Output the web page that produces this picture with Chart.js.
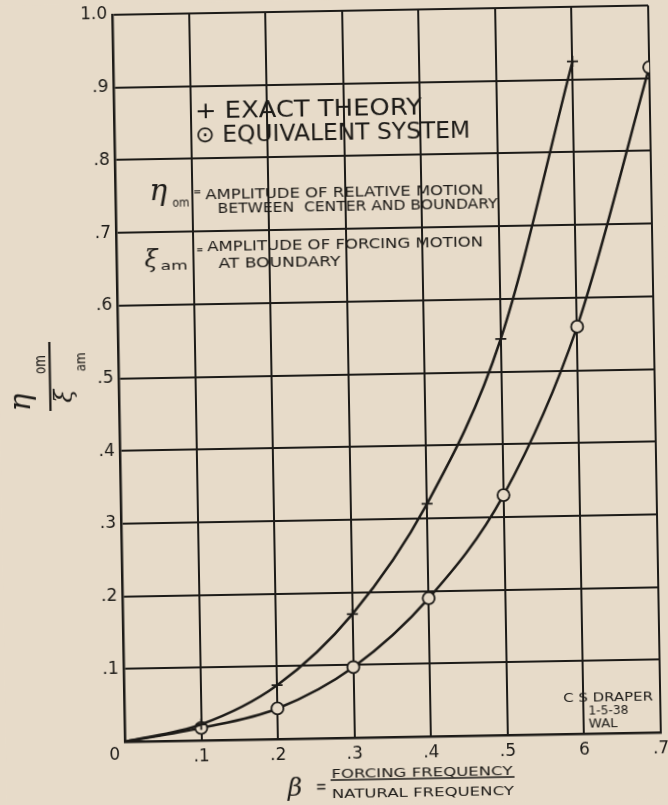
<!DOCTYPE html>
<html>
<head>
<meta charset="utf-8">
<script src="https://cdn.jsdelivr.net/npm/chart.js@4"></script>
<style>
  html, body { margin: 0; padding: 0; background: #e7dbc9; overflow: hidden; }
  #sheet { width: 668px; height: 805px; transform: rotate(-1deg); transform-origin: 50% 50%; }
  canvas { display: block; }
</style>
</head>
<body>
<div id="sheet"><canvas id="chart" width="668" height="805"></canvas></div>
<script>
// Frequency ratio beta and amplitude ratio for the two methods
const betaExact = [0, 0.1, 0.2, 0.3, 0.4, 0.5, 0.6];
const ampExact = [0, 0.022, 0.074, 0.17, 0.32, 0.545, 0.925];
const betaEquiv = [0, 0.1, 0.2, 0.3, 0.4, 0.5, 0.6, 0.7];
const ampEquiv = [0, 0.017, 0.042, 0.097, 0.19, 0.33, 0.56, 0.915];
const xTickLabels = ['', '.1', '.2', '.3', '.4', '.5', '6', '.7'];
const yTickLabels = ['0', '.1', '.2', '.3', '.4', '.5', '.6', '.7', '.8', '.9', '1.0'];

const INK = '#1d1b18';
const PAPER = '#e7dbc9';
const SANS = '"DejaVu Sans", sans-serif';
const SERIF = '"DejaVu Serif", serif';

const pts = (xs, ys) => xs.map((x, i) => ({ x, y: ys[i] }));

// draw text squeezed/stretched to span x1..x2, vertically centred on capitals at yc
function fitText(ctx, text, x1, x2, yc, size, family, weight) {
  ctx.font = (weight || 'normal') + ' ' + size + 'px ' + (family || SANS);
  const w = ctx.measureText(text).width;
  ctx.save();
  ctx.translate(x1, yc + size * 0.365);
  ctx.scale((x2 - x1) / w, 1);
  ctx.textAlign = 'left';
  ctx.textBaseline = 'alphabetic';
  ctx.fillText(text, 0, 0);
  ctx.restore();
}

function glyph(ctx, text, x, baseline, font) {
  ctx.font = font;
  ctx.textAlign = 'left';
  ctx.textBaseline = 'alphabetic';
  ctx.fillText(text, x, baseline);
}

const paperPlugin = {
  id: 'paper',
  beforeDraw(chart) {
    const ctx = chart.ctx;
    ctx.save();
    ctx.fillStyle = PAPER;
    ctx.fillRect(0, 0, chart.width, chart.height);
    ctx.restore();
  }
};

const notesPlugin = {
  id: 'notes',
  afterDraw(chart) {
    const ctx = chart.ctx;
    ctx.save();
    ctx.fillStyle = INK;
    ctx.strokeStyle = INK;

    // key
    fitText(ctx, '+ EXACT THEORY', 200, 427, 107.5, 23);
    fitText(ctx, '\u2299 EQUIVALENT SYSTEM', 200, 475, 132, 23);

    // definition of eta_om
    glyph(ctx, '\u03b7', 153, 197, 'italic 30px ' + SERIF);
    fitText(ctx, 'om', 176, 193, 199, 13);
    fitText(ctx, '=', 197, 205, 189, 12);
    fitText(ctx, 'AMPLITUDE OF RELATIVE MOTION', 209, 487, 192, 14);
    fitText(ctx, 'BETWEEN  CENTER AND BOUNDARY', 221, 501, 205.5, 14);

    // definition of xi_am
    glyph(ctx, '\u03be', 147, 264, 'italic 24px ' + SERIF);
    fitText(ctx, 'am', 163, 190, 262, 13);
    fitText(ctx, '=', 199, 206, 247, 12);
    fitText(ctx, 'AMPLITUDE OF FORCING MOTION', 210, 486, 244, 14);
    fitText(ctx, 'AT BOUNDARY', 221, 343, 261, 14);

    // signature block
    fitText(ctx, 'C S DRAPER', 558, 648, 701.5, 13);
    fitText(ctx, '1-5-38', 583, 623, 714.5, 13);
    fitText(ctx, 'WAL', 583, 612, 727, 13);

    // vertical axis title: eta_om over xi_am, turned
    ctx.save();
    ctx.translate(50.4, 372);
    ctx.rotate(-Math.PI / 2);
    ctx.lineWidth = 2.2;
    ctx.beginPath();
    ctx.moveTo(-34, 0);
    ctx.lineTo(35, 0);
    ctx.stroke();
    glyph(ctx, '\u03b7', -34, -20, 'italic 30px ' + SERIF);
    fitText(ctx, 'om', 3, 22, -10, 15);
    glyph(ctx, '\u03be', -26, 22, 'italic 24px ' + SERIF);
    fitText(ctx, 'am', 5, 24, 30, 14);
    ctx.restore();

    // horizontal axis title: beta = forcing / natural frequency
    glyph(ctx, '\u03b2', 281, 795, 'italic 25px ' + SERIF);
    fitText(ctx, '=', 309, 320, 785, 18);
    fitText(ctx, 'FORCING FREQUENCY', 325, 506, 774, 12);
    ctx.lineWidth = 1.6;
    ctx.beginPath();
    ctx.moveTo(324, 780);
    ctx.lineTo(508, 780);
    ctx.stroke();
    fitText(ctx, 'NATURAL FREQUENCY', 325, 507, 793.5, 12);

    ctx.restore();
  }
};

const noFirst = (r) => (c) => (c.dataIndex === 0 ? 0 : r);

new Chart(document.getElementById('chart'), {
  type: 'scatter',
  data: {
    datasets: [
      {
        label: 'EXACT THEORY',
        data: pts(betaExact, ampExact),
        showLine: true,
        cubicInterpolationMode: 'monotone',
        borderColor: INK,
        borderWidth: 2.5,
        pointStyle: 'cross',
        pointRadius: noFirst(5.5),
        pointBorderWidth: 1.8,
        pointBorderColor: INK,
        pointHoverRadius: 0
      },
      {
        label: 'EQUIVALENT SYSTEM',
        data: pts(betaEquiv, ampEquiv),
        showLine: true,
        cubicInterpolationMode: 'monotone',
        borderColor: INK,
        borderWidth: 2.5,
        pointStyle: 'circle',
        pointRadius: noFirst(6),
        pointBorderWidth: 1.8,
        pointBorderColor: INK,
        pointBackgroundColor: PAPER,
        pointHoverRadius: 0
      },
      {
        label: 'centre dots',
        data: pts(betaEquiv, ampEquiv),
        showLine: false,
        pointStyle: 'circle',
        pointRadius: noFirst(1.4),
        pointBorderWidth: 0,
        pointBackgroundColor: INK,
        pointHoverRadius: 0
      }
    ]
  },
  options: {
    responsive: false,
    animation: false,
    devicePixelRatio: 1,
    events: [],
    layout: { padding: { top: 11, right: 13, left: 0, bottom: 0 } },
    plugins: { legend: { display: false }, tooltip: { enabled: false } },
    scales: {
      x: {
        type: 'linear',
        min: 0,
        max: 0.7,
        afterFit: (s) => { s.height = 67; },
        grid: { color: INK, lineWidth: 2, drawTicks: false },
        border: { color: INK, width: 2.5 },
        ticks: {
          stepSize: 0.1,
          autoSkip: false,
          maxRotation: 0,
          padding: 0,
          color: INK,
          font: { family: SANS, size: 17, lineHeight: 1.9 },
          callback: (v, i) => xTickLabels[i]
        }
      },
      y: {
        min: 0,
        max: 1,
        afterFit: (s) => { s.width = 119; },
        grid: { color: INK, lineWidth: 2, drawTicks: false },
        border: { color: INK, width: 2.5 },
        ticks: {
          stepSize: 0.1,
          autoSkip: false,
          padding: 5,
          color: INK,
          font: (c) => ({
            family: SANS,
            size: 17,
            lineHeight: c.index === 0 ? 1.65 : (c.index === yTickLabels.length - 1 ? 0.6 : 1.2)
          }),
          callback: (v, i) => (i === 0 ? ['', yTickLabels[0]] : yTickLabels[i])
        }
      }
    }
  },
  plugins: [paperPlugin, notesPlugin]
});
</script>
</body>
</html>
